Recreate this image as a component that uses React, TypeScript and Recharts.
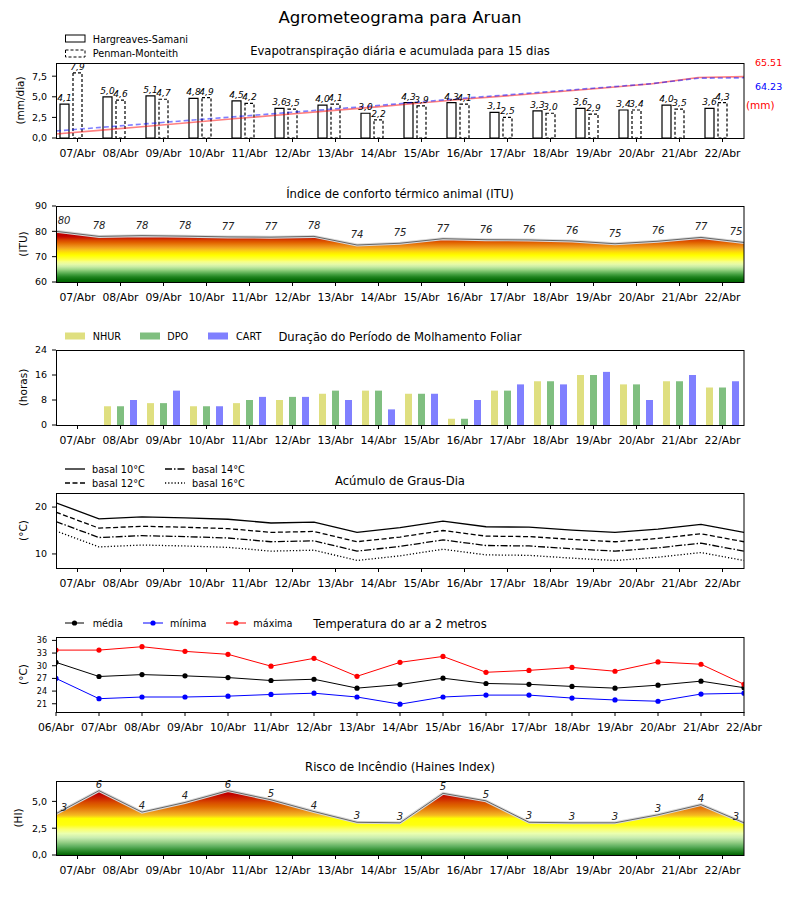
import React from "react";
import { ComposedChart, Bar, Line, Area, XAxis, YAxis, LabelList } from "recharts";

const days = ["07/Abr", "08/Abr", "09/Abr", "10/Abr", "11/Abr", "12/Abr", "13/Abr", "14/Abr", "15/Abr", "16/Abr", "17/Abr", "18/Abr", "19/Abr", "20/Abr", "21/Abr", "22/Abr"];
const daysTemp = ["06/Abr", ...days];

// evapotranspiração (mm/dia) e acumulada (mm)
const etHargreaves = [4.1, 5.0, 5.1, 4.8, 4.5, 3.6, 4.0, 3.0, 4.3, 4.3, 3.1, 3.3, 3.6, 3.4, 4.0, 3.6];
const etPenman = [7.9, 4.6, 4.7, 4.9, 4.2, 3.5, 4.1, 2.2, 3.9, 4.1, 2.5, 3.0, 2.9, 3.4, 3.5, 4.3];
const etAccHargreaves = [4.2, 8.4, 12.6, 16.8, 21.0, 25.0, 29.2, 33.2, 37.6, 41.8, 45.6, 49.6, 53.6, 57.8, 64.6, 65.51];
const etAccPenman = [7.5, 11.4, 15.3, 19.2, 23.1, 26.9, 30.8, 34.6, 38.8, 42.9, 46.6, 50.4, 54.2, 58.0, 63.8, 64.23];

// ITU, on the day boundaries
const itu = [80.0, 78.0, 78.3, 78.1, 77.8, 77.7, 78.0, 74.6, 75.3, 77.1, 76.7, 76.6, 76.2, 75.1, 76.1, 77.6, 75.6];

// molhamento foliar (horas)
const wetNhur = [0, 6, 7, 6, 7, 8, 10, 11, 10, 2, 11, 14, 16, 13, 14, 12];
const wetDpo = [0, 6, 7, 6, 8, 9, 11, 11, 10, 2, 11, 14, 16, 13, 14, 12];
const wetCart = [0, 8, 11, 6, 9, 9, 8, 5, 10, 8, 13, 13, 17, 8, 16, 14];

// graus-dia
const gdBase10 = [20.9, 17.5, 17.9, 17.7, 17.4, 16.6, 16.8, 14.6, 15.6, 17.0, 15.8, 15.7, 15.1, 14.6, 15.3, 16.3, 14.6];
const gdBase12 = [18.9, 15.5, 15.9, 15.7, 15.4, 14.6, 14.8, 12.6, 13.6, 15.0, 13.8, 13.7, 13.1, 12.6, 13.3, 14.3, 12.6];
const gdBase14 = [16.9, 13.5, 13.9, 13.7, 13.4, 12.6, 12.8, 10.6, 11.6, 13.0, 11.8, 11.7, 11.1, 10.6, 11.3, 12.3, 10.6];
const gdBase16 = [14.9, 11.5, 11.9, 11.7, 11.4, 10.6, 10.8, 8.6, 9.6, 11.0, 9.8, 9.7, 9.1, 8.6, 9.3, 10.3, 8.6];

// temperatura do ar (°C)
const tMedia = [30.8, 27.45, 27.9, 27.6, 27.2, 26.5, 26.8, 24.7, 25.55, 27.05, 25.8, 25.6, 25.1, 24.7, 25.4, 26.35, 24.8];
const tMinima = [27.0, 22.2, 22.6, 22.6, 22.8, 23.2, 23.5, 22.6, 20.9, 22.6, 23.05, 23.05, 22.35, 21.9, 21.6, 23.3, 23.5];
const tMaxima = [33.7, 33.7, 34.5, 33.4, 32.7, 29.9, 31.75, 27.5, 30.8, 32.2, 28.45, 28.9, 29.6, 28.7, 30.9, 30.35, 25.6];

// Haines index
const haines = [3.85, 6.0, 4.0, 4.9, 6.0, 5.15, 4.05, 3.05, 3.0, 5.75, 5.05, 3.05, 3.0, 3.0, 3.75, 4.7, 3.0];

const FONT = "'DejaVu Sans', sans-serif";
const fmt1 = (v: number) => v.toFixed(1).replace(".", ",");

const etRows = days.map((day, i) => ({
  day,
  i,
  hs: etHargreaves[i],
  pm: etPenman[i],
  accHs: etAccHargreaves[i],
  accPm: etAccPenman[i],
}));
const ituRows = itu.map((v, i) => ({ x: i, v }));
const wetRows = days.map((day, i) => ({ day, nhur: wetNhur[i], dpo: wetDpo[i], cart: wetCart[i] }));
const gdRows = gdBase10.map((v, i) => ({ x: i, b10: v, b12: gdBase12[i], b14: gdBase14[i], b16: gdBase16[i] }));
const tempRows = tMedia.map((v, i) => ({ x: i, med: v, min: tMinima[i], max: tMaxima[i] }));
const hiRows = haines.map((v, i) => ({ x: i, v }));

const midTicks = days.map((_, i) => i + 0.5);
const edgeTicks = daysTemp.map((_, i) => i);

// plot rectangles (page pixels)
const P = {
  et: [63, 138],
  itu: [206, 282],
  wet: [350, 425],
  gd: [493, 568],
  temp: [637, 712],
  hi: [781, 855],
};
const PL = 56;
const PR = 744;

const box = (y0: number, y1: number) => ({
  wrap: { position: "absolute" as const, left: 0, top: y0 - 10 },
  width: 800,
  height: y1 - y0 + 40,
  margin: { top: 10, right: 800 - PR, bottom: 10, left: 16 },
});

const xTick = { fill: "#000", fontSize: 10.8 };
const yTick = { fill: "#000", fontSize: 9.5 };
const xCommon = {
  axisLine: false,
  tickLine: { stroke: "#000" },
  tickSize: 4,
  tickMargin: 7,
  height: 20,
  interval: 0 as const,
  tick: xTick,
};
const yCommon = {
  axisLine: false,
  tickLine: { stroke: "#000" },
  tickSize: 4,
  tickMargin: 5,
  width: 40,
  tick: yTick,
  interval: 0 as const,
};

function pick(p: any) {
  const vb = p.viewBox || {};
  return {
    x: p.x ?? vb.x ?? 0,
    y: p.y ?? vb.y ?? 0,
    w: p.width ?? vb.width ?? 0,
    value: p.value,
  };
}

const barLabel = (p: any) => {
  const { x, y, w, value } = pick(p);
  if (value == null) return null;
  return (
    <text x={x + w / 2} y={y - 3} textAnchor="middle" fontSize={9} fontStyle="italic" fill="#000">
      {fmt1(Number(value))}
    </text>
  );
};

const pointLabel = (dy: number) => (p: any) => {
  const { x, y, value } = pick(p);
  if (value == null) return null;
  let xx = x;
  if (x < PL + 4) xx += 8;
  if (x > PR - 4) xx -= 8;
  return (
    <text x={xx} y={y - dy} textAnchor="middle" fontSize={10} fontStyle="italic" fill="#222">
      {Math.floor(Number(value))}
    </text>
  );
};

// gradient stops in value space, converted to offsets
const ituStops: [number, string][] = [
  [90, "#c00000"], [78.2, "#c00000"], [77.4, "#cc1a00"], [76.5, "#d84400"], [75.5, "#e26400"],
  [74.5, "#ea8412"], [73.5, "#f2a420"], [72.5, "#fac818"], [71.5, "#ffe800"], [70.5, "#ffff00"],
  [69, "#ffff40"], [68, "#f6ff88"], [67, "#e6faa8"], [66, "#c8eca4"], [65, "#a0d888"],
  [64, "#70bc64"], [63, "#44a040"], [62, "#208420"], [61, "#0a700a"], [60, "#006400"],
];
const hiStops: [number, string][] = [
  [6.9, "#c00000"], [5.7, "#c00000"], [5.3, "#cc2200"], [4.9, "#d84a00"], [4.5, "#e06c00"],
  [4.1, "#ea9018"], [3.7, "#f6bc20"], [3.4, "#ffff00"], [2.8, "#ffff10"], [2.4, "#faff70"],
  [2.0, "#eaffb0"], [1.6, "#c8ecb0"], [1.2, "#98d088"], [0.8, "#60b060"], [0.4, "#2c8c2c"], [0, "#006400"],
];

export default function App() {
  const legendText = { fontSize: 9.7, fill: "#000" };
  const titleSize = 11.6;
  const yLab = (cx: number, y0: number, y1: number, text: string) => (
    <text
      transform={`translate(${cx},${(y0 + y1) / 2}) rotate(-90)`}
      textAnchor="middle"
      dy="0.35em"
      fontSize={10.5}
      fill="#000"
    >
      {text}
    </text>
  );
  const border = (y0: number, y1: number) => (
    <rect x={PL + 0.5} y={y0 + 0.5} width={PR - PL - 0.5} height={y1 - y0} fill="none" stroke="#000" strokeWidth={1} />
  );

  const bEt = box(P.et[0], P.et[1]);
  const bItu = box(P.itu[0], P.itu[1]);
  const bWet = box(P.wet[0], P.wet[1]);
  const bGd = box(P.gd[0], P.gd[1]);
  const bTemp = box(P.temp[0], P.temp[1]);
  const bHi = box(P.hi[0], P.hi[1]);

  const ituH = P.itu[1] - P.itu[0];
  const hiH = P.hi[1] - P.hi[0];

  return (
    <div style={{ position: "absolute", left: 0, top: 0, width: 800, height: 900, background: "#fff", fontFamily: FONT }}>
      <svg width={0} height={0} style={{ position: "absolute" }}>
        <defs>
          <linearGradient id="ituGrad" gradientUnits="userSpaceOnUse" x1={0} y1={10} x2={0} y2={10 + ituH}>
            {ituStops.map(([v, c], k) => (
              <stop key={k} offset={(90 - v) / 30} stopColor={c} />
            ))}
          </linearGradient>
          <linearGradient id="hiGrad" gradientUnits="userSpaceOnUse" x1={0} y1={10} x2={0} y2={10 + hiH}>
            {hiStops.map(([v, c], k) => (
              <stop key={k} offset={(6.9 - v) / 6.9} stopColor={c} />
            ))}
          </linearGradient>
        </defs>
      </svg>

      {/* Evapotranspiração */}
      <div style={bEt.wrap}>
        <ComposedChart width={bEt.width} height={bEt.height} data={etRows} margin={bEt.margin}>
          <XAxis xAxisId="cat" dataKey="day" {...xCommon} />
          <XAxis xAxisId="num" dataKey="i" type="number" domain={[0, 15]} hide />
          <YAxis yAxisId="l" {...yCommon} domain={[0, 9.1]} ticks={[0, 2.5, 5, 7.5]} tickFormatter={fmt1} />
          <YAxis yAxisId="r" domain={[0, 80]} hide />
          <Bar xAxisId="cat" yAxisId="l" dataKey="hs" barSize={9} fill="#fff" stroke="#000" strokeWidth={1.2} isAnimationActive={false}>
            <LabelList dataKey="hs" content={barLabel} />
          </Bar>
          <Bar xAxisId="cat" yAxisId="l" dataKey="pm" barSize={9} fill="#fff" stroke="#000" strokeWidth={1.2} strokeDasharray="3 2" isAnimationActive={false}>
            <LabelList dataKey="pm" content={barLabel} />
          </Bar>
          <Bar xAxisId="cat" yAxisId="l" dataKey="none" barSize={9} fill="none" isAnimationActive={false} />
          <Line xAxisId="num" yAxisId="r" dataKey="accHs" type="linear" stroke="#ff0000" strokeOpacity={0.5} strokeWidth={1.6} dot={false} isAnimationActive={false} />
          <Line xAxisId="num" yAxisId="r" dataKey="accPm" type="linear" stroke="#0000ff" strokeOpacity={0.5} strokeWidth={1.6} strokeDasharray="5 3" dot={false} isAnimationActive={false} />
        </ComposedChart>
      </div>

      {/* ITU */}
      <div style={bItu.wrap}>
        <ComposedChart width={bItu.width} height={bItu.height} data={ituRows} margin={bItu.margin}>
          <XAxis dataKey="x" type="number" domain={[0, 16]} allowDataOverflow ticks={midTicks} tickFormatter={(v: number) => days[Math.floor(v)]} {...xCommon} />
          <YAxis {...yCommon} domain={[60, 90]} ticks={[60, 70, 80, 90]} />
          <Area dataKey="v" type="linear" baseValue={60} fill="url(#ituGrad)" fillOpacity={1} stroke="none" isAnimationActive={false} />
          <Line dataKey="v" type="linear" stroke="#d8d8d8" strokeWidth={3} dot={false} isAnimationActive={false} />
          <Line dataKey="v" type="linear" stroke="#666" strokeWidth={1} dot={false} isAnimationActive={false}>
            <LabelList dataKey="v" content={pointLabel(7)} />
          </Line>
        </ComposedChart>
      </div>

      {/* Molhamento foliar */}
      <div style={bWet.wrap}>
        <ComposedChart width={bWet.width} height={bWet.height} data={wetRows} margin={bWet.margin} barGap={6}>
          <XAxis dataKey="day" {...xCommon} />
          <YAxis {...yCommon} domain={[0, 24]} ticks={[0, 8, 16, 24]} />
          <Bar dataKey="nhur" barSize={7} fill="#dfdf80" isAnimationActive={false} />
          <Bar dataKey="dpo" barSize={7} fill="#80bf80" isAnimationActive={false} />
          <Bar dataKey="cart" barSize={7} fill="#8080ff" isAnimationActive={false} />
        </ComposedChart>
      </div>

      {/* Graus-dia */}
      <div style={bGd.wrap}>
        <ComposedChart width={bGd.width} height={bGd.height} data={gdRows} margin={bGd.margin}>
          <XAxis dataKey="x" type="number" domain={[0, 16]} allowDataOverflow ticks={midTicks} tickFormatter={(v: number) => days[Math.floor(v)]} {...xCommon} />
          <YAxis {...yCommon} domain={[7, 23]} ticks={[10, 20]} />
          <Line dataKey="b10" type="linear" stroke="#000" strokeWidth={1.3} dot={false} isAnimationActive={false} />
          <Line dataKey="b12" type="linear" stroke="#000" strokeWidth={1.3} strokeDasharray="5 2.5" dot={false} isAnimationActive={false} />
          <Line dataKey="b14" type="linear" stroke="#000" strokeWidth={1.3} strokeDasharray="7 2 1.5 2" dot={false} isAnimationActive={false} />
          <Line dataKey="b16" type="linear" stroke="#000" strokeWidth={1.3} strokeDasharray="1.2 2" dot={false} isAnimationActive={false} />
        </ComposedChart>
      </div>

      {/* Temperatura */}
      <div style={bTemp.wrap}>
        <ComposedChart width={bTemp.width} height={bTemp.height} data={tempRows} margin={bTemp.margin}>
          <XAxis dataKey="x" type="number" domain={[0, 16]} allowDataOverflow ticks={edgeTicks} tickFormatter={(v: number) => daysTemp[v]} {...xCommon} />
          <YAxis {...yCommon} tick={{ fill: "#000", fontSize: 8 }} domain={[19.05, 36.8]} allowDataOverflow ticks={[21, 24, 27, 30, 33, 36]} />
          <Line dataKey="med" type="linear" stroke="#000" strokeWidth={1} dot={{ r: 2.6, fill: "#000", stroke: "#000", strokeWidth: 0 }} isAnimationActive={false} />
          <Line dataKey="min" type="linear" stroke="#0000ff" strokeWidth={1} dot={{ r: 2.6, fill: "#0000ff", stroke: "#0000ff", strokeWidth: 0 }} isAnimationActive={false} />
          <Line dataKey="max" type="linear" stroke="#ff0000" strokeWidth={1} dot={{ r: 2.6, fill: "#ff0000", stroke: "#ff0000", strokeWidth: 0 }} isAnimationActive={false} />
        </ComposedChart>
      </div>

      {/* Haines */}
      <div style={bHi.wrap}>
        <ComposedChart width={bHi.width} height={bHi.height} data={hiRows} margin={bHi.margin}>
          <XAxis dataKey="x" type="number" domain={[0, 16]} allowDataOverflow ticks={midTicks} tickFormatter={(v: number) => days[Math.floor(v)]} {...xCommon} />
          <YAxis {...yCommon} domain={[0, 6.9]} ticks={[0, 2.5, 5]} tickFormatter={fmt1} />
          <Area dataKey="v" type="linear" baseValue={0} fill="url(#hiGrad)" fillOpacity={1} stroke="none" isAnimationActive={false} />
          <Line dataKey="v" type="linear" stroke="#d8d8d8" strokeWidth={3} dot={false} isAnimationActive={false} />
          <Line dataKey="v" type="linear" stroke="#666" strokeWidth={1} dot={false} isAnimationActive={false}>
            <LabelList dataKey="v" content={pointLabel(3)} />
          </Line>
        </ComposedChart>
      </div>

      {/* overlay: frames, titles, legends */}
      <svg width={800} height={900} style={{ position: "absolute", left: 0, top: 0, pointerEvents: "none" }} fontFamily={FONT}>
        {border(P.et[0], P.et[1])}
        {border(P.itu[0], P.itu[1])}
        {border(P.wet[0], P.wet[1])}
        {border(P.gd[0], P.gd[1])}
        {border(P.temp[0], P.temp[1])}
        {border(P.hi[0], P.hi[1])}

        <text x={400} y={23} textAnchor="middle" fontSize={16.6} fill="#000">Agrometeograma para Aruan</text>

        <text x={400} y={54.5} textAnchor="middle" fontSize={titleSize} fill="#000">Evapotranspiração diária e acumulada para 15 dias</text>
        <text x={400} y={198} textAnchor="middle" fontSize={titleSize} fill="#000">Índice de conforto térmico animal (ITU)</text>
        <text x={400} y={341} textAnchor="middle" fontSize={titleSize} fill="#000">Duração do Período de Molhamento Foliar</text>
        <text x={400} y={485} textAnchor="middle" fontSize={titleSize} fill="#000">Acúmulo de Graus-Dia</text>
        <text x={400} y={628} textAnchor="middle" fontSize={titleSize} fill="#000">Temperatura do ar a 2 metros</text>
        <text x={400} y={771} textAnchor="middle" fontSize={titleSize} fill="#000">Risco de Incêndio (Haines Index)</text>

        {yLab(20, P.et[0], P.et[1], "(mm/dia)")}
        {yLab(23, P.itu[0], P.itu[1], "(ITU)")}
        {yLab(23, P.wet[0], P.wet[1], "(horas)")}
        {yLab(23, P.gd[0], P.gd[1], "(°C)")}
        {yLab(23, P.temp[0], P.temp[1], "(°C)")}
        {yLab(18, P.hi[0], P.hi[1], "(HI)")}

        {/* ET legend + totals */}
        <rect x={65.5} y={35} width={19.5} height={7} fill="#fff" stroke="#000" strokeWidth={1} />
        <text x={92.7} y={42.5} {...legendText}>Hargreaves-Samani</text>
        <rect x={65.5} y={50} width={19.5} height={7} fill="#fff" stroke="#000" strokeWidth={1} strokeDasharray="3 2" />
        <text x={92.7} y={57} {...legendText}>Penman-Monteith</text>
        <text x={755} y={65.5} fontSize={9.5} fill="#ff0000">{etAccHargreaves[etAccHargreaves.length - 1].toFixed(2)}</text>
        <text x={755} y={89.5} fontSize={9.5} fill="#0000ff">{etAccPenman[etAccPenman.length - 1].toFixed(2)}</text>
        <text x={746} y={108.5} fontSize={10.5} fill="#ff0000">(mm)</text>

        {/* wetness legend */}
        <rect x={65} y={332.5} width={20} height={7} fill="#dfdf80" />
        <text x={92.7} y={340} {...legendText}>NHUR</text>
        <rect x={140} y={332.5} width={20} height={7} fill="#80bf80" />
        <text x={167.3} y={340} {...legendText}>DPO</text>
        <rect x={208} y={332.5} width={20} height={7} fill="#8080ff" />
        <text x={236} y={340} {...legendText}>CART</text>

        {/* graus-dia legend */}
        <line x1={65} x2={85} y1={469} y2={469} stroke="#000" strokeWidth={1.3} />
        <text x={92} y={472.5} {...legendText}>basal 10°C</text>
        <line x1={65} x2={85} y1={483} y2={483} stroke="#000" strokeWidth={1.3} strokeDasharray="5 2.5" />
        <text x={92} y={486.5} {...legendText}>basal 12°C</text>
        <line x1={165} x2={185} y1={469} y2={469} stroke="#000" strokeWidth={1.3} strokeDasharray="7 2 1.5 2" />
        <text x={192} y={472.5} {...legendText}>basal 14°C</text>
        <line x1={165} x2={185} y1={483} y2={483} stroke="#000" strokeWidth={1.3} strokeDasharray="1.2 2" />
        <text x={192} y={486.5} {...legendText}>basal 16°C</text>

        {/* temperature legend */}
        <line x1={65} x2={84} y1={623} y2={623} stroke="#000" strokeWidth={1} />
        <circle cx={74.5} cy={623} r={2.6} fill="#000" />
        <text x={92.7} y={626.5} {...legendText}>média</text>
        <line x1={143} x2={163} y1={623} y2={623} stroke="#0000ff" strokeWidth={1} />
        <circle cx={153} cy={623} r={2.6} fill="#0000ff" />
        <text x={170} y={626.5} {...legendText}>mínima</text>
        <line x1={226} x2={246} y1={623} y2={623} stroke="#ff0000" strokeWidth={1} />
        <circle cx={236} cy={623} r={2.6} fill="#ff0000" />
        <text x={253.3} y={626.5} {...legendText}>máxima</text>
      </svg>
    </div>
  );
}
